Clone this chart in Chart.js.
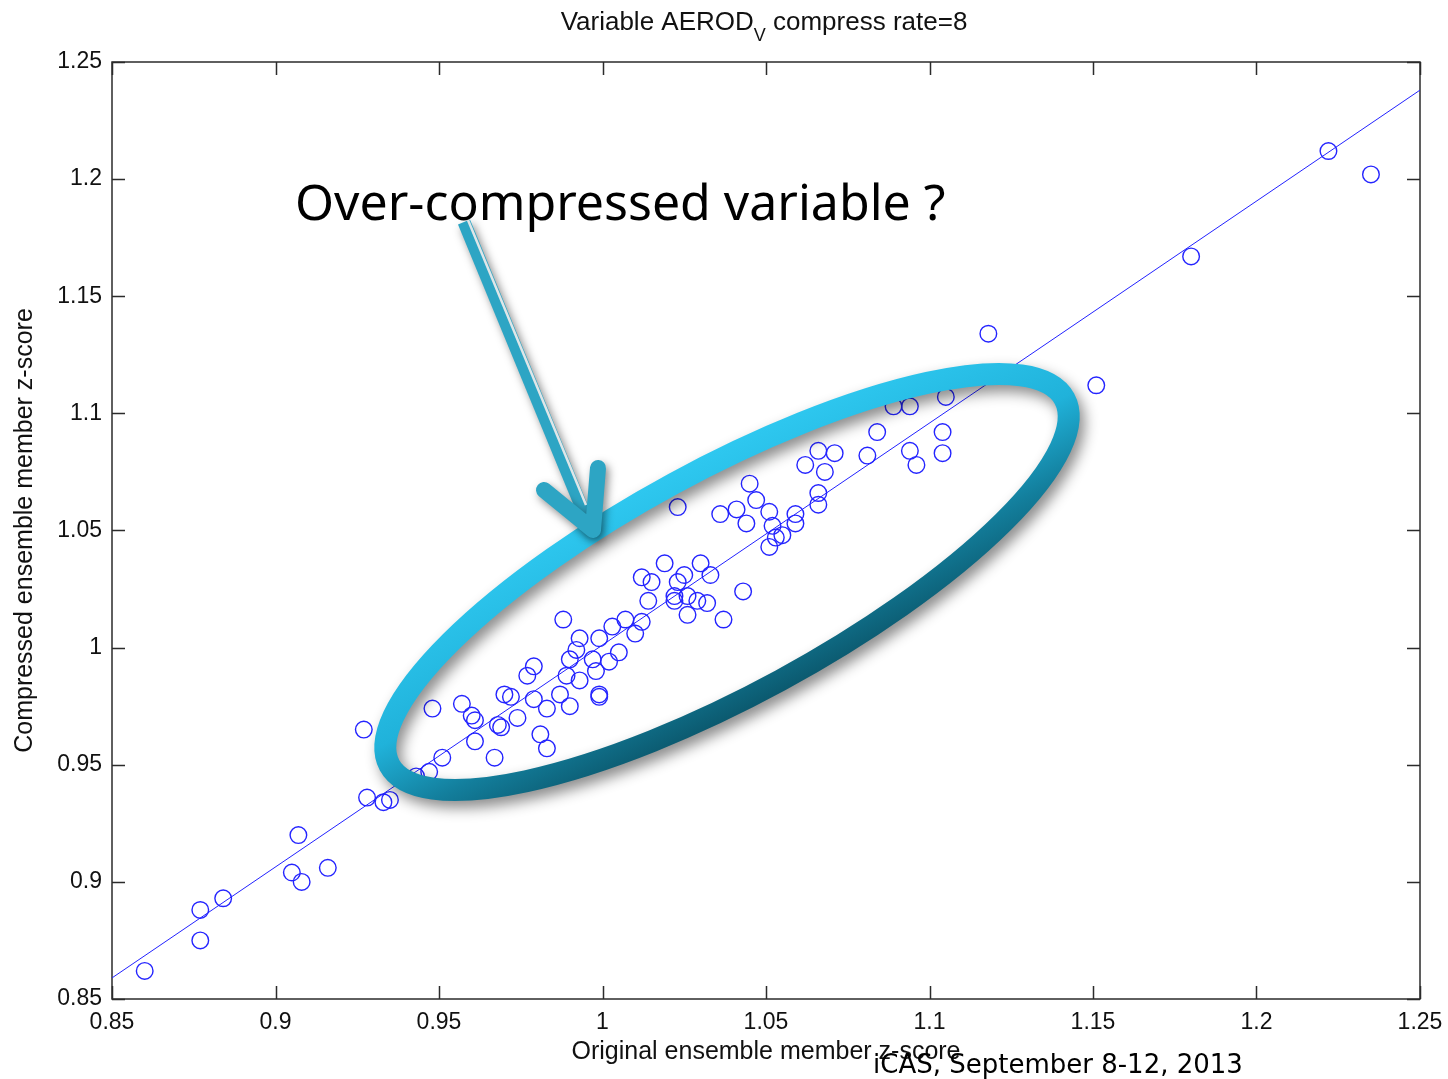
<!DOCTYPE html>
<html>
<head>
<meta charset="utf-8">
<script src="https://cdn.jsdelivr.net/npm/chart.js@4.4.1/dist/chart.umd.min.js"></script>
<style>
  html, body { margin: 0; padding: 0; background: #fff; }
  #wrap { width: 1448px; height: 1079px; }
</style>
</head>
<body>
<div id="wrap"><canvas id="chart" width="1448" height="1079"></canvas></div>
<script>
// ensemble members: original z-score (x) vs compressed z-score (y)
const xVals = [
  0.860, 0.877, 0.877, 0.884, 0.907, 0.905, 0.908, 0.916, 0.927, 0.928,
  0.933, 0.935, 0.943, 0.947, 0.948, 0.951, 0.957, 0.960, 0.961, 0.961,
  0.967, 0.968, 0.969, 0.970, 0.972, 0.974, 0.977, 0.979, 0.979, 0.981,
  0.983, 0.983, 0.987, 0.988, 0.989, 0.990, 0.990, 0.993, 0.992, 0.993,
  0.997, 0.998, 0.999, 0.999, 0.999, 1.002, 1.003, 1.005, 1.007, 1.010,
  1.012, 1.012, 1.014, 1.015, 1.019, 1.022, 1.022, 1.023, 1.023, 1.025,
  1.026, 1.026, 1.029, 1.030, 1.032, 1.033, 1.036, 1.037, 1.041, 1.043,
  1.044, 1.045, 1.047, 1.051, 1.051, 1.052, 1.053, 1.055, 1.059, 1.059,
  1.062, 1.066, 1.066, 1.066, 1.068, 1.071, 1.081, 1.084, 1.089, 1.094,
  1.094, 1.096, 1.104, 1.104, 1.105, 1.118, 1.151, 1.180, 1.222, 1.235
];
const yVals = [
  0.862, 0.875, 0.888, 0.893, 0.920, 0.904, 0.900, 0.906, 0.965, 0.936,
  0.934, 0.935, 0.945, 0.947, 0.974, 0.953, 0.976, 0.971, 0.969, 0.960,
  0.953, 0.967, 0.966, 0.980, 0.979, 0.970, 0.988, 0.992, 0.978, 0.963,
  0.957, 0.974, 0.980, 1.012, 0.988, 0.975, 0.995, 0.986, 0.999, 1.004,
  0.995, 0.990, 0.980, 0.979, 1.004, 0.994, 1.009, 0.998, 1.012, 1.006,
  1.030, 1.011, 1.020, 1.028, 1.036, 1.022, 1.020, 1.028, 1.060, 1.031,
  1.022, 1.014, 1.020, 1.036, 1.019, 1.031, 1.057, 1.012, 1.059, 1.024,
  1.053, 1.070, 1.063, 1.043, 1.058, 1.052, 1.047, 1.048, 1.057, 1.053,
  1.078, 1.084, 1.066, 1.061, 1.075, 1.083, 1.082, 1.092, 1.103, 1.084,
  1.103, 1.078, 1.092, 1.083, 1.107, 1.134, 1.112, 1.167, 1.212, 1.202
];
// fitted line end points
const fitX = [0.85, 1.25];
const fitY = [0.859, 1.238];

const xTicks = [0.85, 0.9, 0.95, 1, 1.05, 1.1, 1.15, 1.2, 1.25];
const yTicks = [0.85, 0.9, 0.95, 1, 1.05, 1.1, 1.15, 1.2, 1.25];

const titleMain = 'Variable AEROD';
const titleSub = 'V';
const titleRest = ' compress rate=8';
const xTitle = 'Original ensemble member z-score';
const yTitle = 'Compressed ensemble member z-score';
const noteText = 'Over-compressed variable ?';
const footerText = 'iCAS, September 8-12, 2013';

const labelFont = '"Liberation Sans", Arial, Helvetica, sans-serif';
const fmt = v => String(Math.round(v * 100) / 100);

// box round the plot with inward ticks on all sides
const framePlugin = {
  id: 'frame',
  beforeDatasetsDraw(chart) {
    const { ctx, chartArea: a, scales: { x, y } } = chart;
    const tl = 13;
    ctx.save();
    ctx.strokeStyle = '#2b2b2b';
    ctx.lineWidth = 1.5;
    ctx.strokeRect(a.left, a.top, a.right - a.left, a.bottom - a.top);
    ctx.beginPath();
    x.ticks.forEach(t => {
      const px = Math.round(x.getPixelForValue(t.value)) + 0.5;
      ctx.moveTo(px, a.bottom); ctx.lineTo(px, a.bottom - tl);
      ctx.moveTo(px, a.top); ctx.lineTo(px, a.top + tl);
    });
    y.ticks.forEach(t => {
      const py = Math.round(y.getPixelForValue(t.value)) + 0.5;
      ctx.moveTo(a.left, py); ctx.lineTo(a.left + tl, py);
      ctx.moveTo(a.right, py); ctx.lineTo(a.right - tl, py);
    });
    ctx.stroke();
    ctx.restore();
  }
};

// the highlight ellipse, arrow and note drawn over the points
const overlayPlugin = {
  id: 'overlay',
  afterDatasetsDraw(chart) {
    const ctx = chart.ctx;
    ctx.save();

    const cx = 727, cy = 582, rot = -28.5 * Math.PI / 180;
    const g = ctx.createLinearGradient(670, 465, 790, 700);
    g.addColorStop(0, '#2fc9f1');
    g.addColorStop(0.45, '#20b2da');
    g.addColorStop(0.72, '#137f9d');
    g.addColorStop(1, '#0a5367');
    ctx.shadowColor = 'rgba(0,0,0,0.45)';
    ctx.shadowBlur = 14;
    ctx.shadowOffsetX = 5;
    ctx.shadowOffsetY = 7;
    ctx.strokeStyle = g;
    ctx.lineWidth = 22;
    ctx.beginPath();
    ctx.ellipse(cx, cy, 384, 112, rot, 0, Math.PI * 2);
    ctx.stroke();

    // arrow
    ctx.shadowBlur = 8;
    ctx.shadowOffsetX = 3;
    ctx.shadowOffsetY = 4;
    ctx.strokeStyle = '#2da5c4';
    ctx.lineCap = 'butt';
    ctx.lineWidth = 13;
    ctx.beginPath();
    ctx.moveTo(464, 222);
    ctx.lineTo(591, 530);
    ctx.stroke();

    ctx.lineCap = 'round';
    ctx.lineJoin = 'round';
    ctx.lineWidth = 16;
    ctx.beginPath();
    ctx.moveTo(544, 490);
    ctx.lineTo(593, 530);
    ctx.lineTo(598, 468);
    ctx.stroke();

    ctx.shadowColor = 'transparent';
    ctx.strokeStyle = '#dfe6e8';
    ctx.lineCap = 'butt';
    ctx.lineWidth = 2.5;
    ctx.beginPath();
    ctx.moveTo(468, 220);
    ctx.lineTo(586, 505);
    ctx.stroke();

    ctx.fillStyle = '#000';
    ctx.font = '50px "Noto Sans", "DejaVu Sans", sans-serif';
    ctx.textBaseline = 'alphabetic';
    ctx.textAlign = 'left';
    ctx.fillText(noteText, 295, 220);
    ctx.restore();
  },
  afterDraw(chart) {
    const ctx = chart.ctx;
    ctx.save();
    ctx.fillStyle = '#111';
    ctx.textBaseline = 'alphabetic';
    ctx.textAlign = 'left';
    // title with subscript
    const big = '26px ' + labelFont, small = '18px ' + labelFont;
    ctx.font = big;
    const w1 = ctx.measureText(titleMain).width;
    const w3 = ctx.measureText(titleRest).width;
    ctx.font = small;
    const w2 = ctx.measureText(titleSub).width;
    let tx = 764 - (w1 + w2 + w3) / 2;
    ctx.font = big;
    ctx.fillText(titleMain, tx, 30);
    ctx.font = small;
    ctx.fillText(titleSub, tx + w1, 41);
    ctx.font = big;
    ctx.fillText(titleRest, tx + w1 + w2, 30);

    // footer
    ctx.fillStyle = '#000';
    ctx.font = '26px "DejaVu Sans", sans-serif';
    ctx.fillText(footerText, 873, 1073);
    ctx.restore();
  }
};

new Chart(document.getElementById('chart'), {
  type: 'scatter',
  data: {
    datasets: [
      {
        type: 'line',
        data: fitX.map((x, i) => ({ x, y: fitY[i] })),
        borderColor: '#2222ff',
        borderWidth: 1,
        pointRadius: 0,
        fill: false,
        order: 2
      },
      {
        data: xVals.map((x, i) => ({ x, y: yVals[i] })),
        pointStyle: 'circle',
        pointRadius: 8.3,
        borderColor: '#2424ff',
        borderWidth: 1.4,
        backgroundColor: 'rgba(0,0,0,0)',
        order: 1
      }
    ]
  },
  options: {
    responsive: false,
    animation: false,
    events: [],
    layout: { padding: { top: 62, right: 28, left: 0, bottom: 0 } },
    plugins: {
      legend: { display: false },
      title: { display: false },
      tooltip: { enabled: false }
    },
    scales: {
      x: {
        type: 'linear',
        min: 0.85,
        max: 1.25,
        afterBuildTicks: s => { s.ticks = xTicks.map(v => ({ value: v })); },
        afterFit: s => { s.height = 80; s.paddingLeft = 0; s.paddingRight = 0; },
        grid: { display: false, drawTicks: false },
        border: { display: false },
        ticks: {
          autoSkip: false, maxRotation: 0, padding: 10, color: '#111',
          font: { family: labelFont, size: 23 },
          callback: v => fmt(v)
        },
        title: {
          display: true, text: xTitle, color: '#111',
          font: { family: labelFont, size: 25 },
          padding: { top: 12, bottom: 12 }
        }
      },
      y: {
        type: 'linear',
        min: 0.85,
        max: 1.25,
        afterBuildTicks: s => { s.ticks = yTicks.map(v => ({ value: v })); },
        afterFit: s => { s.width = 112; s.paddingTop = 0; s.paddingBottom = 0; },
        grid: { display: false, drawTicks: false },
        border: { display: false },
        ticks: {
          autoSkip: false, padding: 10, color: '#111',
          font: { family: labelFont, size: 23 },
          callback: v => fmt(v)
        },
        title: {
          display: true, text: yTitle, color: '#111',
          font: { family: labelFont, size: 25 },
          padding: { top: 10, bottom: 10 }
        }
      }
    }
  },
  plugins: [framePlugin, overlayPlugin]
});
</script>
</body>
</html>
